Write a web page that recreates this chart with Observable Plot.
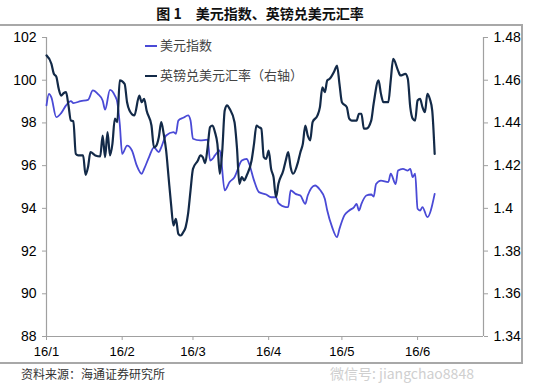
<!DOCTYPE html>
<html>
<head>
<meta charset="utf-8">
<script src="https://cdn.jsdelivr.net/npm/d3@7"></script>
<script src="https://cdn.jsdelivr.net/npm/@observablehq/plot@0.6"></script>
<style>
  html, body { margin: 0; padding: 0; background: #fff; }
  #wrap { position: relative; width: 550px; height: 384px; overflow: hidden; font-family: "Liberation Sans", Arial, sans-serif; }
  #wrap svg { position: absolute; left: 0; top: 0; }
  .frame { position: absolute; left: -4px; top: 24px; width: 525px; height: 336px; border-top: 2px solid #a8a8a8; border-right: 2px solid #a8a8a8; border-bottom: 2px solid #a8a8a8; }
  .title { position: absolute; left: 0; top: 4px; width: 520px; text-align: center; font-family: "Noto Sans CJK SC", sans-serif; font-weight: bold; font-size: 14px; color: #111; line-height: 18px; white-space: pre; }
  .source { position: absolute; left: 21px; top: 366px; font-family: "Noto Sans CJK SC", sans-serif; font-size: 12px; color: #333; line-height: 16px; }
  .leg { position: absolute; left: 145px; font-family: "Noto Sans CJK SC", sans-serif; font-size: 13px; color: #444; line-height: 16px; white-space: nowrap; }
  .leg span.sw { display: inline-block; width: 12px; height: 2px; vertical-align: middle; margin-right: 3px; }
  .wm { position: absolute; left: 330px; top: 364px; font-family: "Noto Sans CJK SC", sans-serif; font-size: 14px; color: #cfcfcf; line-height: 18px; white-space: nowrap; }
</style>
</head>
<body>
<div id="wrap"></div>
<script>
// ---- data ----
// days since 2016-01-01
const usdDay = [0,1,2,4,6,8,10,11,14,17,19,21,23,24,26,28,29,30,31,33,35,37,39,40,42,44,46,47,49,52,53,54,56,58,59,60,63,66,67,68,69,71,73,75,77,80,82,83,85,87,90,92,94,95,98,99,100,102,104,106,107,110,112,114,115,117,119,120,122,124,126,127,128,129,131,133,134,135,137,140,141,143,144,146,148,149,150,151,152,153,154,156,159];
const usdIndex = [98.82,99.36,99.2,98.27,98.46,98.82,99.02,98.93,99.02,99.08,99.52,99.36,99.05,98.62,99.55,99.28,98.97,97.96,96.55,96.94,96.71,96.0,95.62,95.85,96.4,96.86,96.63,96.86,97.41,97.57,97.49,98.11,98.24,98.35,98.11,97.26,97.18,97.22,96.24,96.32,96.48,96.71,94.84,95.23,95.46,96.24,96.32,96.09,95.31,94.76,94.65,94.52,94.52,94.24,94.06,94.06,94.84,94.68,94.6,94.21,94.6,95.07,94.87,94.45,93.9,93.12,92.65,93.04,93.67,93.9,94.06,94.21,93.9,94.21,94.6,94.65,94.55,95.14,95.3,95.23,95.62,95.14,95.77,95.85,95.77,95.85,95.46,95.62,93.98,93.9,94.06,93.59,94.68];

const gbpDay = [0,2,3,4,5,6,7,8,9,10,11,12,13,15,16,17,18,20,22,23,24,25,26,27,28,29,30,32,33,34,36,38,39,40,41,43,44,45,46,47,48,49,50,51,52,53,54,55,56,57,58,59,60,62,63,64,65,66,67,68,69,70,71,72,73,74,75,77,78,79,80,81,82,84,85,86,87,88,89,90,91,92,93,94,95,97,98,99,100,101,103,104,105,106,107,108,109,111,112,113,114,115,116,118,119,120,121,123,124,125,127,128,129,130,131,133,134,136,137,138,140,141,142,144,145,147,148,149,150,151,152,153,154,155,156,157,158,159];
const gbpUsd = [1.4716,1.4677,1.463,1.4617,1.456,1.4528,1.4539,1.4544,1.4482,1.4411,1.4408,1.4255,1.4248,1.4248,1.4157,1.4193,1.4263,1.4248,1.4243,1.4341,1.424,1.4357,1.4248,1.4302,1.442,1.4404,1.4599,1.4583,1.4497,1.4458,1.4435,1.4528,1.4497,1.4513,1.4458,1.4388,1.4286,1.4294,1.4333,1.4404,1.4349,1.4271,1.4146,1.4022,1.392,1.3951,1.3881,1.3873,1.3888,1.3912,1.3975,1.4084,1.4185,1.4224,1.4248,1.424,1.4212,1.4286,1.438,1.4388,1.4357,1.4302,1.4162,1.4271,1.4458,1.4482,1.4466,1.4404,1.4286,1.4115,1.4146,1.4131,1.4154,1.4224,1.4302,1.4388,1.438,1.4373,1.424,1.4232,1.4271,1.4185,1.4146,1.4052,1.4115,1.4177,1.4224,1.4263,1.4193,1.4162,1.4216,1.4263,1.4302,1.4388,1.4341,1.4318,1.4404,1.4435,1.4474,1.4567,1.4544,1.4599,1.4607,1.4645,1.4669,1.4583,1.4497,1.4474,1.442,1.4411,1.4411,1.4443,1.4443,1.4373,1.4373,1.4411,1.449,1.4599,1.4536,1.4497,1.4497,1.4599,1.47,1.4645,1.4622,1.463,1.4607,1.4474,1.442,1.4411,1.4505,1.4513,1.4474,1.445,1.4536,1.4513,1.4458,1.4255];

const usdTicks = [88, 90, 92, 94, 96, 98, 100, 102];
const gbpTicks = ["1.34", "1.36", "1.38", "1.4", "1.42", "1.44", "1.46", "1.48"];
const monthTicks = ["2016-01-01", "2016-02-01", "2016-03-01", "2016-04-01", "2016-05-01", "2016-06-01"];
const monthLabels = ["16/1", "16/2", "16/3", "16/4", "16/5", "16/6"];
const seriesNames = ["美元指数", "英镑兑美元汇率（右轴）"];
const titleText = "图 1　美元指数、英镑兑美元汇率";
const sourceText = "资料来源：海通证券研究所";
const watermark = "微信号: jiangchao8848";

// ---- helpers ----
const base = Date.UTC(2016, 0, 1);
const dayToDate = d => new Date(base + d * 864e5);
const gbpMin = 1.34, gbpMax = 1.48, usdMin = 88, usdMax = 102;
const gbpToLeft = g => usdMin + (g - gbpMin) * (usdMax - usdMin) / (gbpMax - gbpMin);

const usdData = usdDay.map((d, i) => ({date: dayToDate(d), v: usdIndex[i]}));
const gbpData = gbpDay.map((d, i) => ({date: dayToDate(d), v: gbpToLeft(gbpUsd[i])}));

const xTickDates = monthTicks.map(s => new Date(s + "T00:00:00Z"));
const xLabelMap = new Map(xTickDates.map((d, i) => [+d, monthLabels[i]]));
const rightPos = gbpTicks.map(s => gbpToLeft(+s));
const rightLabel = new Map(rightPos.map((p, i) => [Math.round(p * 1000), gbpTicks[i]]));

const USD_COLOR = "#4a4ad6";
const GBP_COLOR = "#132a48";
const AXIS = "#a0a0a0";

const chart = Plot.plot({
  width: 550,
  height: 384,
  marginTop: 37,
  marginBottom: 48,
  marginLeft: 46,
  marginRight: 67,
  style: {fontFamily: "'Liberation Sans', Arial, sans-serif", fontSize: "14px", background: "transparent", color: "#000"},
  x: {type: "utc", domain: [dayToDate(0), dayToDate(179)]},
  y: {domain: [usdMin, usdMax]},
  marks: [
    Plot.ruleX([dayToDate(0)], {stroke: AXIS, strokeWidth: 1.2}),
    Plot.ruleX([dayToDate(179)], {stroke: AXIS, strokeWidth: 1.2}),
    Plot.ruleY([usdMin], {stroke: AXIS, strokeWidth: 1.2}),
    Plot.axisY({anchor: "left", ticks: usdTicks, tickSize: 4, tickPadding: 6, stroke: AXIS, fill: "#000", label: null, fontSize: 14}),
    Plot.axisY({anchor: "right", ticks: rightPos, tickSize: 4, tickPadding: 6, stroke: AXIS, fill: "#000", label: null, fontSize: 14,
      tickFormat: p => rightLabel.get(Math.round(p * 1000))}),
    Plot.axisX({ticks: xTickDates, tickSize: 4, tickPadding: 6, stroke: AXIS, fill: "#000", label: null, fontSize: 13,
      tickFormat: d => xLabelMap.get(+d)}),
    Plot.lineY(usdData, {x: "date", y: "v", stroke: USD_COLOR, strokeWidth: 1.8, curve: "monotone-x"}),
    Plot.lineY(gbpData, {x: "date", y: "v", stroke: GBP_COLOR, strokeWidth: 2.2, curve: "monotone-x"})
  ]
});

const wrap = document.getElementById("wrap");
const frame = document.createElement("div"); frame.className = "frame"; wrap.appendChild(frame);
wrap.appendChild(chart);

const title = document.createElement("div"); title.className = "title"; title.textContent = titleText; wrap.appendChild(title);
const src = document.createElement("div"); src.className = "source"; src.textContent = sourceText; wrap.appendChild(src);
const wm = document.createElement("div"); wm.className = "wm"; wm.textContent = watermark; wrap.appendChild(wm);

[[seriesNames[0], USD_COLOR, 37], [seriesNames[1], GBP_COLOR, 67]].forEach(([name, color, top]) => {
  const el = document.createElement("div");
  el.className = "leg";
  el.style.top = top + "px";
  const sw = document.createElement("span"); sw.className = "sw"; sw.style.background = color;
  el.appendChild(sw);
  el.appendChild(document.createTextNode(name));
  wrap.appendChild(el);
});
</script>
</body>
</html>
